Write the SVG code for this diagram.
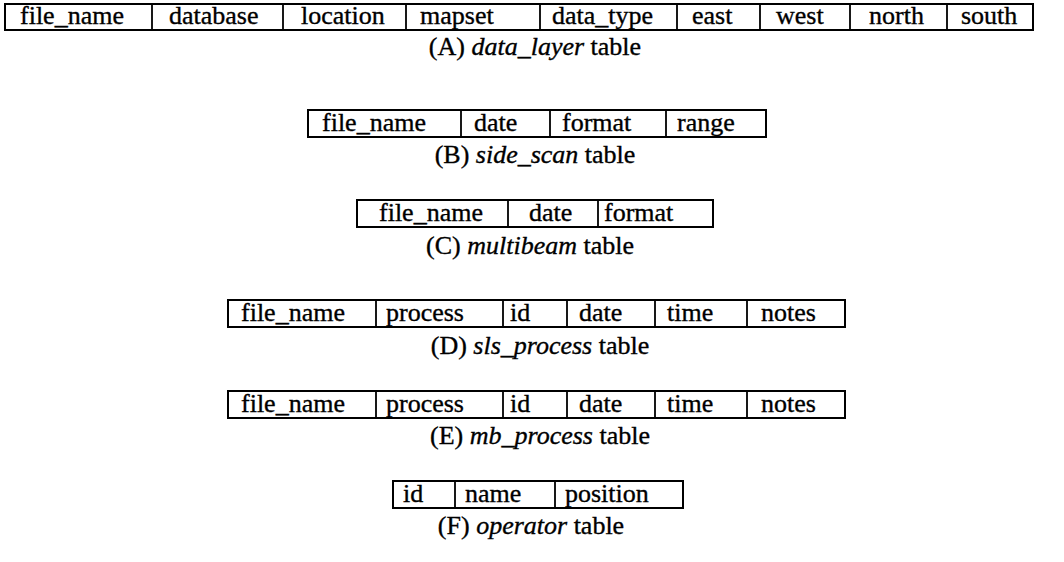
<svg xmlns="http://www.w3.org/2000/svg" width="1064" height="562" viewBox="0 0 1064 562">
  <style>
    .frame { fill: none; stroke: #000; stroke-width: 2; }
    .sep { stroke: #000; stroke-width: 1.8; }
    .cell, .cap { font-family: "Liberation Serif", "Times New Roman", serif; font-size: 26px; fill: #000; stroke: #000; stroke-width: 0.35; }
    .cap { text-anchor: middle; }
    .cap tspan.name { font-style: italic; }
  </style>
  <rect width="1064" height="562" fill="#fff"/>

  <!-- (A) data_layer -->
  <g id="table-data-layer">
    <rect class="frame" x="5" y="4" width="1028" height="26"/>
    <path class="sep" d="M152 4V30M283 4V30M406 4V30M540 4V30M677 4V30M760 4V30M850 4V30M947 4V30"/>
    <text class="cell" y="24">
      <tspan x="20">file_name</tspan><tspan x="169">database</tspan><tspan x="301">location</tspan><tspan x="420">mapset</tspan><tspan x="552">data_type</tspan><tspan x="692">east</tspan><tspan x="776">west</tspan><tspan x="869">north</tspan><tspan x="961">south</tspan>
    </text>
    <text class="cap" x="535" y="55">(A) <tspan class="name">data_layer</tspan> table</text>
  </g>

  <!-- (B) side_scan -->
  <g id="table-side-scan">
    <rect class="frame" x="308" y="110" width="458" height="27"/>
    <path class="sep" d="M461 110V137M550 110V137M666 110V137"/>
    <text class="cell" y="131">
      <tspan x="322">file_name</tspan><tspan x="474">date</tspan><tspan x="562">format</tspan><tspan x="677">range</tspan>
    </text>
    <text class="cap" x="535" y="163">(B) <tspan class="name">side_scan</tspan> table</text>
  </g>

  <!-- (C) multibeam -->
  <g id="table-multibeam">
    <rect class="frame" x="357" y="200" width="356" height="27"/>
    <path class="sep" d="M508 200V227M598 200V227"/>
    <text class="cell" y="221">
      <tspan x="379">file_name</tspan><tspan x="529">date</tspan><tspan x="604">format</tspan>
    </text>
    <text class="cap" x="530" y="254">(C) <tspan class="name">multibeam</tspan> table</text>
  </g>

  <!-- (D) sls_process -->
  <g id="table-sls-process">
    <rect class="frame" x="228" y="300" width="617" height="27"/>
    <path class="sep" d="M376 300V327M503 300V327M567 300V327M655 300V327M747 300V327"/>
    <text class="cell" y="321">
      <tspan x="241">file_name</tspan><tspan x="386">process</tspan><tspan x="510">id</tspan><tspan x="579">date</tspan><tspan x="667">time</tspan><tspan x="761">notes</tspan>
    </text>
    <text class="cap" x="540" y="354">(D) <tspan class="name">sls_process</tspan> table</text>
  </g>

  <!-- (E) mb_process -->
  <g id="table-mb-process">
    <rect class="frame" x="228" y="391" width="617" height="27"/>
    <path class="sep" d="M376 391V418M503 391V418M567 391V418M655 391V418M747 391V418"/>
    <text class="cell" y="412">
      <tspan x="241">file_name</tspan><tspan x="386">process</tspan><tspan x="510">id</tspan><tspan x="579">date</tspan><tspan x="667">time</tspan><tspan x="761">notes</tspan>
    </text>
    <text class="cap" x="540" y="444">(E) <tspan class="name">mb_process</tspan> table</text>
  </g>

  <!-- (F) operator -->
  <g id="table-operator">
    <rect class="frame" x="393" y="481" width="290" height="27"/>
    <path class="sep" d="M455 481V508M555 481V508"/>
    <text class="cell" y="502">
      <tspan x="403">id</tspan><tspan x="465">name</tspan><tspan x="565">position</tspan>
    </text>
    <text class="cap" x="531" y="534">(F) <tspan class="name">operator</tspan> table</text>
  </g>

  <!-- the tables stand alone: no connectors -->
  <g id="connectors"/>
</svg>
